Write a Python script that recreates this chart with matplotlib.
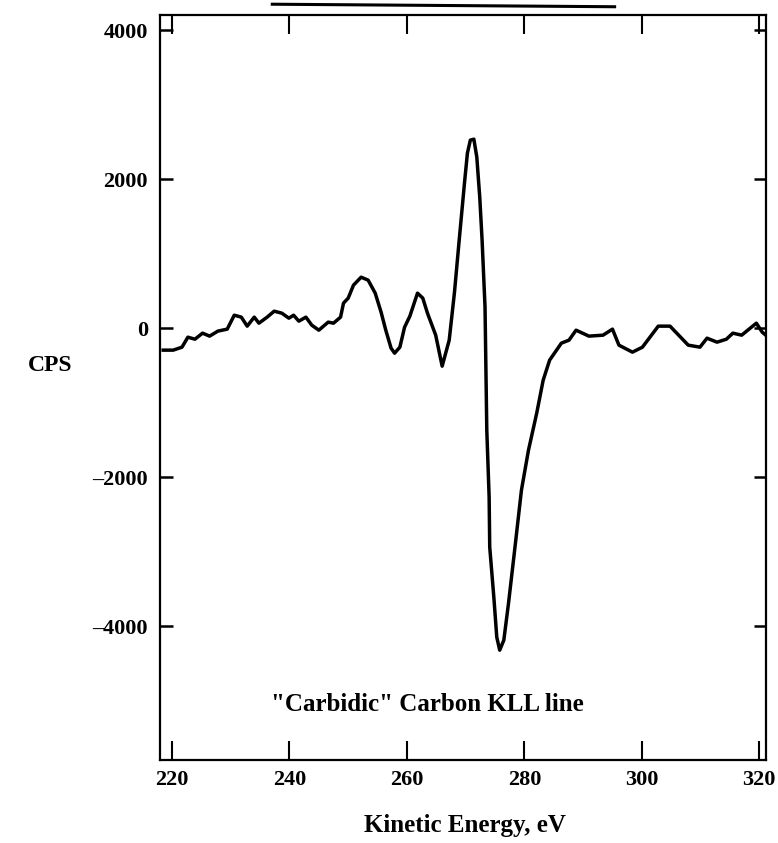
import matplotlib
matplotlib.use("Agg")
import matplotlib.pyplot as plt
from matplotlib.lines import Line2D

# kinetic energy (eV) and signal (CPS)
energy = [218.5, 220.2, 221.7, 222.7, 223.9, 225.2, 226.4, 227.8, 229.4, 230.6,
          231.8, 232.8, 234.0, 234.8, 236.2, 237.4, 238.7, 239.9, 240.7, 241.6,
          242.8, 243.8, 245.0, 246.6, 247.5, 248.7, 249.2, 250.0, 250.9, 252.2,
          253.4, 254.6, 255.6, 256.4, 257.3, 257.9, 258.8, 259.6, 260.5, 261.8,
          262.7, 263.5, 264.9, 266.0, 267.2, 268.1, 268.9, 269.8, 270.3, 270.8,
          271.4, 271.9, 272.4, 272.8, 273.3, 273.6, 274.0, 274.1, 274.8, 275.3,
          275.8, 276.5, 277.3, 278.4, 279.5, 280.7, 282.1, 283.2, 284.3, 286.3,
          287.6, 288.8, 291.0, 293.4, 295.0, 296.1, 298.4, 300.1, 302.8, 304.8,
          307.9, 309.9, 311.1, 312.8, 314.4, 315.5, 317.0, 319.5, 320.5, 321.7]
cps = [-295, -295, -255, -121, -148, -67, -107, -40, -13, 174,
       148, 27, 148, 67, 148, 228, 201, 134, 174, 94,
       148, 40, -27, 81, 67, 148, 336, 403, 577, 684,
       644, 470, 215, -27, -268, -336, -255, 13, 161, 470,
       403, 201, -94, -510, -161, 483, 1181, 1946, 2349, 2523,
       2536, 2295, 1758, 1181, 282, -1369, -2268, -2939, -3610, -4147,
       -4321, -4187, -3691, -2939, -2174, -1637, -1141, -698, -429, -201,
       -161, -27, -107, -94, -13, -228, -322, -255, 27, 27,
       -228, -255, -134, -188, -148, -67, -94, 67, -54, -134]

xticks = [220, 240, 260, 280, 300, 320]
yticks = [-4000, -2000, 0, 2000, 4000]

plt.rcParams['font.family'] = ['Liberation Serif', 'DejaVu Serif']
plt.rcParams['font.weight'] = 'bold'

fig = plt.figure(figsize=(7.78, 8.43), dpi=100)
ax = fig.add_axes([0.206, 0.098, 0.779, 0.884])

ax.plot(energy, cps, color='black', linewidth=2.5, solid_joinstyle='round')

ax.set_xlim(218.0, 321.2)
ax.set_ylim(-5800, 4200)
ax.set_xticks(xticks)
ax.set_yticks(yticks)
ax.set_xticklabels([str(v) for v in xticks], fontsize=16, fontweight='bold')
ax.set_yticklabels(['\u20134000', '\u20132000', '0', '2000', '4000'],
                   fontsize=16, fontweight='bold')
ax.tick_params(axis='x', direction='in', length=14, width=1.5, top=True,
               pad=7)
ax.tick_params(axis='y', direction='in', length=9, width=1.8, right=True,
               pad=9)
for s in ax.spines.values():
    s.set_linewidth(1.6)

ax.text(263.5, -5046, '"Carbidic" Carbon KLL line', ha='center', va='center',
        fontsize=18, fontweight='bold')
fig.text(0.597, 0.021, 'Kinetic Energy, eV', ha='center', va='center',
         fontsize=18, fontweight='bold')
fig.text(0.064, 0.567, 'CPS', ha='center', va='center', fontsize=17,
         fontweight='bold')

# underline of the cut-off title at the top edge
fig.add_artist(Line2D([0.35, 0.79], [0.995, 0.992], color='black',
                      linewidth=2.2, transform=fig.transFigure))

fig.savefig('out.png', dpi=100)
